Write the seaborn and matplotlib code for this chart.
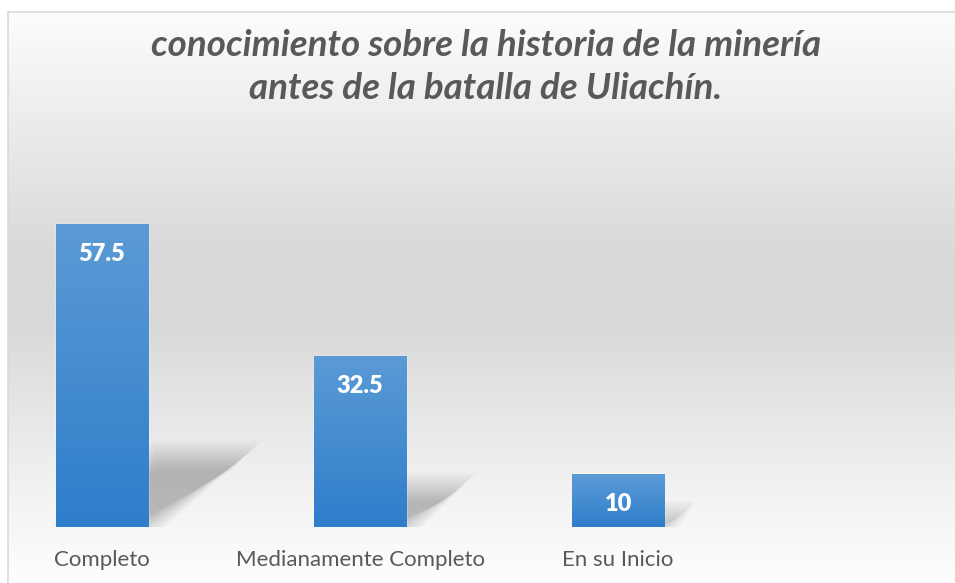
import numpy as np
import pandas as pd
import seaborn as sns
import matplotlib.pyplot as plt
from matplotlib.colors import LinearSegmentedColormap
from matplotlib.patches import Polygon

sns.set_theme(style="white")
plt.rcParams['font.family'] = ['Lato', 'DejaVu Sans']

categorias = ["Completo", "Medianamente Completo", "En su Inicio"]
valores = [57.5, 32.5, 10]
titulo = "conocimiento sobre la historia de la minería\nantes de la batalla de Uliachín."

df = pd.DataFrame({"categoria": categorias, "valor": valores})

W, H = 955, 583
fig = plt.figure(figsize=(W / 100, H / 100), dpi=100)
fig.patch.set_facecolor("white")

# fondo con degradado (estilo Excel)
bg = fig.add_axes([8 / W, 0, 1 - 8 / W, (H - 12) / H])
bg.set_axis_off()
stops = [(0.0, "#fcfcfc"), (0.18, "#ededed"), (0.42, "#d9d9d9"),
         (0.55, "#d9d9d9"), (0.80, "#efefef"), (1.0, "#fefefe")]
bg_cmap = LinearSegmentedColormap.from_list("bg", stops)
grad = np.linspace(0, 1, 256).reshape(-1, 1)
bg.imshow(grad, aspect="auto", cmap=bg_cmap, extent=[0, 1, 0, 1], origin="upper")
bg.set_xlim(0, 1)
bg.set_ylim(0, 1)
# borde del gráfico
fig.add_artist(plt.Line2D([8 / W, 1], [1 - 12 / H, 1 - 12 / H], color="#d9d9d9", lw=1.2))
fig.add_artist(plt.Line2D([8 / W, 8 / W], [0, 1 - 12 / H], color="#d9d9d9", lw=1.2))

# ejes principales
base_px = 56
ax = fig.add_axes([8 / W, base_px / H, 1 - 8 / W, (H - 12 - base_px) / H])
ax.patch.set_alpha(0)
sns.barplot(data=df, x="categoria", y="valor", width=0.357, color="#4a8fd2",
            ax=ax, zorder=3)
ax.set_xlim(-94 / 258, (947 - 94) / 258)
ax.set_ylim(0, (H - 12 - base_px) / 5.27)
for s in ax.spines.values():
    s.set_visible(False)
ax.set_yticks([])
ax.set_xlabel("")
ax.set_ylabel("")
ax.tick_params(axis="x", length=0, pad=16.5, labelsize=16, labelcolor="#595959")

# escala px por unidad
p0 = ax.transData.transform((0, 0))
p1 = ax.transData.transform((1, 1))
px_x = p1[0] - p0[0]
px_y = p1[1] - p0[1]

bar_cmap = LinearSegmentedColormap.from_list("bar", ["#2f7dcb", "#5b9bd5"])
for bar, v in zip(ax.patches, valores):
    x0 = bar.get_x()
    w = bar.get_width()
    h = bar.get_height()
    # sombra en perspectiva, difuminada con capas
    h_px = h * px_y
    dx = 0.33 * h_px / px_x
    hs = 0.24 * h
    n = 30
    for i in range(n):
        g = (i - n / 2) * 1.0
        gx = g / px_x
        gy = g / px_y
        pts = [(x0 + gx * 0.2, -gy * 0.2), (x0 + w + gx, -gy * 0.2),
               (x0 + w + dx + gx, hs + gy), (x0 + dx - gx * 0.2, hs + gy)]
        ax.add_patch(Polygon(pts, closed=True, facecolor="#707070", edgecolor="none",
                             alpha=0.017, zorder=1))
    # degradado de la barra
    im = ax.imshow(np.linspace(0, 1, 100).reshape(-1, 1), cmap=bar_cmap, aspect="auto",
                   extent=[x0, x0 + w, 0, h], origin="lower", zorder=4)
    im.set_clip_path(bar)
    ax.annotate(f"{v:g}", (x0 + w / 2, h), xytext=(0, -30 * 0.72), textcoords="offset points",
                ha="center", va="center", color="white", fontsize=17, fontweight="heavy",
                zorder=5)

ax.set_xlim(-94 / 258, (947 - 94) / 258)
ax.set_ylim(0, (H - 12 - base_px) / 5.27)

fig.text(486 / W, 1 - 29 / H, titulo, ha="center", va="top", fontsize=26.5,
         fontweight="bold", fontstyle="italic", color="#595959", linespacing=1.36)

fig.savefig("out.png", dpi=100)
